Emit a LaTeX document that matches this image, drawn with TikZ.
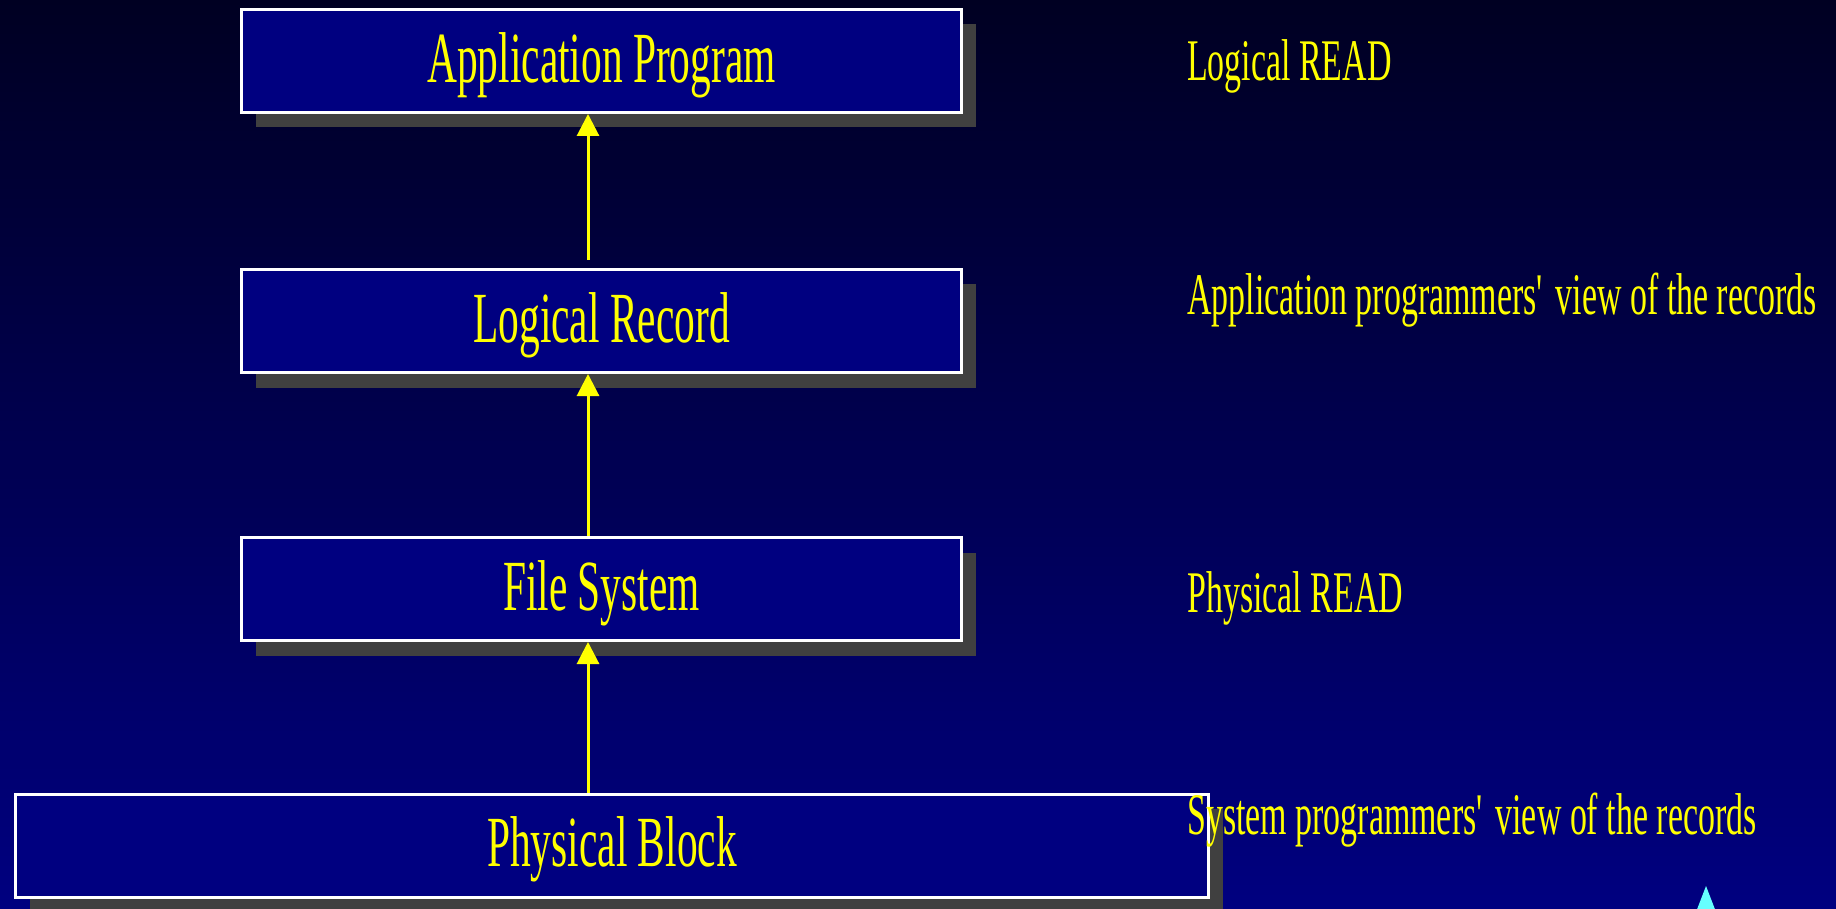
\documentclass[tikz,border=0pt]{standalone}
\usepackage{fontspec}
\setmainfont{Liberation Serif}[FakeStretch=0.575]
\usetikzlibrary{arrows.meta,shadows}
\definecolor{navybox}{RGB}{0,0,128}
\definecolor{bgtop}{RGB}{0,0,34}
\definecolor{bgbot}{RGB}{0,0,128}
\definecolor{shadowgray}{RGB}{64,64,64}
\definecolor{labelyellow}{RGB}{255,255,0}
\definecolor{tipcyan}{RGB}{102,255,255}
\tikzset{
  layerbox/.style={draw=white, line width=3pt, fill=navybox, text=labelyellow,
    minimum height=103pt, inner sep=0pt, text depth=7pt,
    font=\fontsize{72}{72}\selectfont,
    drop shadow={fill=shadowgray, opacity=1, shadow xshift=14pt, shadow yshift=-15pt}},
  viewnote/.style={anchor=west, text=labelyellow, inner sep=0pt,
    font=\fontsize{59}{59}\selectfont},
  uparrow/.style={draw=labelyellow, line width=3pt,
    -{Triangle[width=22pt,length=22pt]}}
}
\begin{document}
\begin{tikzpicture}[x=1pt,y=-1pt]
  % background with vertical fade
  \shade[top color=bgtop, bottom color=bgbot] (0,0) rectangle (1836,909);
  \useasboundingbox (0,0) rectangle (1836,909);

  % the four layers
  \node[layerbox, minimum width=720pt] (app) at (601.5,61) {Application Program};
  \node[layerbox, minimum width=720pt] (rec) at (601.5,321) {Logical Record};
  \node[layerbox, minimum width=720pt] (fs)  at (601.5,589) {File System};
  \node[layerbox, minimum width=1193pt] (blk) at (612,845.5) {Physical Block};

  % notes on the right
  \node[viewnote] (n1) at (1187,66)  {Logical READ};
  \node[viewnote] (n2) at (1187,300) {Application programmers\textquotesingle\ view of the records};
  \node[viewnote] (n3) at (1187,598) {Physical READ};
  \node[viewnote] (n4) at (1187,820) {System programmers\textquotesingle\ view of the records};

  % upward connectors
  \coordinate (a1s) at (588,260);
  \draw[uparrow] (a1s) -- (a1s |- app.south);
  \draw[uparrow] (a1s |- fs.north) -- (a1s |- rec.south);
  \draw[uparrow] (a1s |- blk.north) -- (a1s |- fs.south);

  % cyan tip at the lower right edge
  \coordinate (tip) at (1706,886);
  \fill[tipcyan] (tip) -- (1716,912) -- (1696,912) -- cycle;
\end{tikzpicture}
\end{document}
